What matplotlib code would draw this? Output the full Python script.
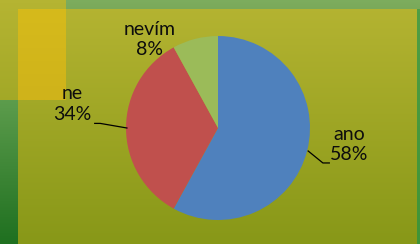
import numpy as np
import matplotlib.pyplot as plt
from matplotlib.colors import LinearSegmentedColormap

labels = ['ano', 'ne', 'nevím']
values = [58, 34, 8]
colors = ['#4f81bd', '#c0504d', '#9bbb59']

W, H = 420, 244
fig = plt.figure(figsize=(W / 100, H / 100), dpi=100)

# background decoration
bg = fig.add_axes([0, 0, 1, 1])
bg.set_xlim(0, W)
bg.set_ylim(H, 0)
bg.axis('off')

def grad(c1, c2, extent):
    cm = LinearSegmentedColormap.from_list('g', [c1, c2])
    bg.imshow(np.linspace(0, 1, 64).reshape(-1, 1), cmap=cm, aspect='auto',
              extent=extent, interpolation='bilinear')

grad('#b5b432', '#889818', (0, W, H, 0))
grad('#7dad5e', '#7aa95a', (66, W, 9, 0))
grad('#4f9e45', '#3f9438', (417, W, H, 9))
grad('#5c9c4c', '#1f7020', (0, 18, H, 100))
grad('#d6ba1c', '#cfb31a', (18, 66, 100, 9))

# pie
r = 92
cx, cy = 218, 128
ax = fig.add_axes([(cx - r) / W, (H - cy - r) / H, 2 * r / W, 2 * r / H])
ax.patch.set_visible(False)
ax.axis('off')
ax.pie(values, colors=colors, startangle=90, counterclock=False, radius=1,
       wedgeprops=dict(linewidth=0))
ax.set_xlim(-1, 1)
ax.set_ylim(-1, 1)

font = dict(family='Lato', fontsize=14, color='#0d0d0d', ha='center',
            va='center', linespacing=1.25)
pos = {'ano': (1.43, -0.18), 'ne': (-1.58, 0.26), 'nevím': (-0.74, 0.96)}
for lab, v in zip(labels, values):
    x, y = pos[lab]
    ax.text(x, y, f'{lab}\n{v}%', clip_on=False, **font)

# leader lines
ax.plot([-1.34, -1.28, -0.99], [0.05, 0.05, -0.0], color='black', lw=0.9,
        clip_on=False)
ax.plot([0.98, 1.14, 1.21], [-0.25, -0.38, -0.38], color='black', lw=0.9,
        clip_on=False)

fig.savefig('out.png', dpi=100)
